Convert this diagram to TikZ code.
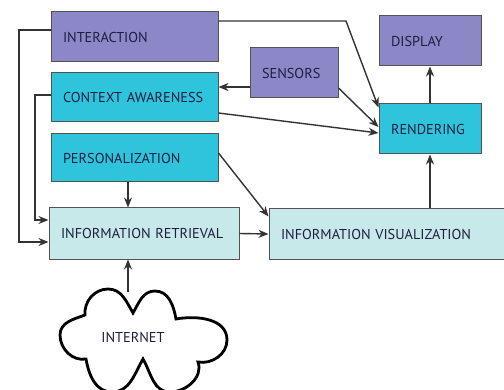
\documentclass[tikz,border=0pt]{standalone}
\usepackage{fontspec}
\setmainfont{PT Sans}
\usetikzlibrary{arrows.meta,calc}
\definecolor{boxpurple}{HTML}{8C88C8}
\definecolor{boxcyan}{HTML}{2EC5DC}
\definecolor{boxlight}{HTML}{C8E9EA}
\definecolor{txt}{HTML}{1E1E40}
\definecolor{edge}{HTML}{333333}
\begin{document}
\begin{tikzpicture}[x=1pt,y=1pt,
  box/.style={draw=edge!85,line width=1pt,rectangle,inner xsep=12pt,inner ysep=0pt,
    align=left,text=txt,font=\fontsize{14.3}{16}\selectfont,anchor=center},
  pbox/.style={box,fill=boxpurple},
  cbox/.style={box,fill=boxcyan},
  lbox/.style={box,fill=boxlight},
  conn/.style={draw=edge,line width=1.4pt,-{Stealth[length=10pt,width=8pt]}},
  plain/.style={draw=edge,line width=1.4pt}]
\useasboundingbox[fill=white] (0,0) rectangle (504,389);
% boxes
\node[pbox,text width=143pt,minimum height=50pt] (inter) at (134.5,352) {INTERACTION};
\node[cbox,text width=143pt,minimum height=49pt] (ctx) at (134.5,291.5) {CONTEXT AWARENESS};
\node[cbox,text width=143pt,minimum height=48pt] (pers) at (134.5,231) {PERSONALIZATION};
\node[pbox,text width=64pt,minimum height=50pt] (sens) at (294,316) {SENSORS};
\node[pbox,text width=78pt,minimum height=50pt] (disp) at (430,348) {DISPLAY};
\node[cbox,text width=78pt,minimum height=50pt] (rend) at (430,260) {RENDERING};
\node[lbox,text width=166pt,minimum height=51pt] (ir) at (144,155.5) {INFORMATION RETRIEVAL};
\node[lbox,text width=213pt,minimum height=50pt] (iv) at (387.5,155) {INFORMATION VISUALIZATION};
% cloud
\coordinate (cloudtop) at (128,97);
\draw[line width=2.8pt,fill=white] (85,74) to[out=95,in=180] (108,100) to[out=0,in=120] (133,76)
  to[out=60,in=180] (155,98) to[out=0,in=100] (176,70)
  to[out=10,in=90] (227,49) to[out=-90,in=-10] (198,27)
  to[out=-70,in=0] (170,-3) to[out=180,in=-60] (143,30)
  to[out=-120,in=0] (112,-3) to[out=180,in=-80] (86,30)
  to[out=190,in=-90] (60,54) to[out=90,in=200] (85,74) -- cycle;
\node[text=txt,font=\fontsize{14.3}{16}\selectfont] (net) at (133,52) {INTERNET};
% connectors
\draw[conn] ([yshift=16pt]inter.east) -- (346,368) -- ([yshift=-4pt]rend.north west);
\draw[conn] ([yshift=7pt]inter.west) -- (19,359) |- ([yshift=-8.5pt]ir.west);
\draw[conn] ([yshift=2.5pt]ctx.west) -- (35,294) |- ([yshift=13.5pt]ir.west);
\draw[conn] ([yshift=-14pt]sens.west) -- ([yshift=10.5pt]ctx.east);
\draw[conn] ([yshift=-15pt]sens.east) -- ([yshift=2pt]rend.west);
\draw[conn] ([yshift=-15.5pt]ctx.east) -- ([yshift=-4pt]rend.west);
\draw[conn] ([yshift=5pt]pers.east) -- ([yshift=-8pt]iv.north west);
\draw[conn] ([xshift=-6.5pt]pers.south) -- ([xshift=-16pt]ir.north);
\draw[conn] (ir.east) -- (iv.west);
\draw[conn] (cloudtop) -- ([xshift=-16pt]ir.south);
\draw[conn] (iv.north -| rend.south) -- (rend.south);
\draw[conn] (rend.north) -- (disp.south);
\end{tikzpicture}
\end{document}
